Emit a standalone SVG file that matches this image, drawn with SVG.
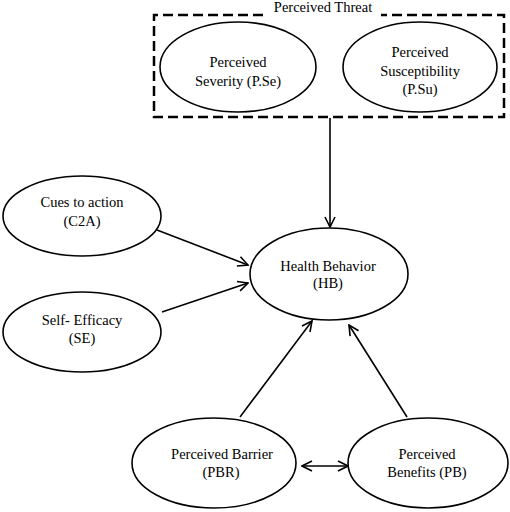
<svg xmlns="http://www.w3.org/2000/svg" width="510" height="512" viewBox="0 0 510 512">
<style>
.n{fill:#fff;stroke:#000;stroke-width:1.6}
text{font-family:'Liberation Serif','Times New Roman',Times,serif;font-size:14.5px;fill:#000;text-anchor:middle}
.c{fill:none;stroke:#000;stroke-width:1.6}
</style>
<defs>
<marker id="a" viewBox="0 0 12 12" refX="11" refY="6" markerWidth="12" markerHeight="12" markerUnits="userSpaceOnUse" orient="auto-start-reverse">
<path d="M1,1 L11,6 L1,11" fill="none" stroke="#000" stroke-width="1.6"/>
</marker>
</defs>
<rect width="510" height="512" fill="#fff"/>
<g id="perceived-threat">
<path d="M263,15 H154 V117 H504 V15 H381" fill="none" stroke="#000" stroke-width="2.5" stroke-dasharray="10,5"/>
<text font-family="Liberation Serif, serif" x="323" y="12">Perceived Threat</text>
</g>
<g id="pse" font-family="Liberation Serif, serif">
<ellipse class="n" cx="238" cy="67" rx="78" ry="45"/>
<text x="238" y="67">Perceived</text>
<text x="238" y="86">Severity (P.Se)</text>
</g>
<g id="psu">
<ellipse class="n" cx="420" cy="67" rx="77" ry="45"/>
<text x="420" y="57">Perceived</text>
<text x="420" y="76">Susceptibility</text>
<text x="420" y="94">(P.Su)</text>
</g>
<g id="c2a">
<ellipse class="n" cx="82" cy="216" rx="79" ry="40"/>
<text x="82" y="207">Cues to action</text>
<text x="82" y="226">(C2A)</text>
</g>
<g id="se">
<ellipse class="n" cx="82" cy="332" rx="79" ry="40"/>
<text x="82" y="325">Self- Efficacy</text>
<text x="82" y="343">(SE)</text>
</g>
<g id="hb">
<ellipse class="n" cx="329" cy="274" rx="79" ry="46"/>
<text x="328" y="271">Health Behavior</text>
<text x="328" y="288">(HB)</text>
</g>
<g id="pbr">
<ellipse class="n" cx="214" cy="463" rx="82" ry="45"/>
<text x="222" y="459">Perceived Barrier</text>
<text x="221" y="477">(PBR)</text>
</g>
<g id="pb">
<ellipse class="n" cx="428" cy="463" rx="80" ry="45"/>
<text x="427" y="459">Perceived</text>
<text x="427" y="477">Benefits (PB)</text>
</g>
<g id="connectors">
<line class="c" x1="330" y1="118" x2="330" y2="227" marker-end="url(#a)"/>
<line class="c" x1="157" y1="230" x2="248" y2="265" marker-end="url(#a)"/>
<line class="c" x1="162" y1="312" x2="248" y2="283" marker-end="url(#a)"/>
<line class="c" x1="240" y1="417" x2="312" y2="321" marker-end="url(#a)"/>
<line class="c" x1="407" y1="417" x2="349" y2="325" marker-end="url(#a)"/>
<line class="c" x1="302" y1="466" x2="348" y2="466" marker-start="url(#a)" marker-end="url(#a)"/>
</g>
</svg>
